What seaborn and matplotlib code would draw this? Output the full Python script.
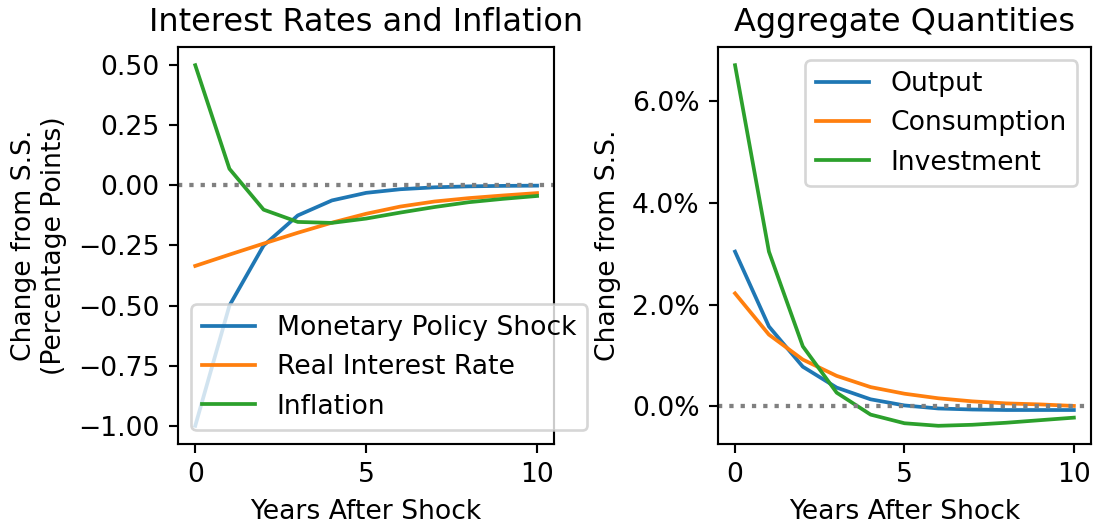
'''
plot.py

impulse responses to a monetary policy shock
'''
import matplotlib
matplotlib.use("Agg")
import matplotlib.pyplot as plt
from matplotlib.ticker import PercentFormatter
import seaborn as sns
import numpy as np
import pandas as pd

years = list(range(11))

# left panel, percentage points
policy_shock = [-1.0, -0.5, -0.25, -0.125, -0.0625, -0.031, -0.016, -0.008, -0.004, -0.002, -0.001]
real_rate = [-0.335, -0.288, -0.242, -0.197, -0.155, -0.118, -0.088, -0.067, -0.053, -0.042, -0.032]
inflation = [0.50, 0.069, -0.101, -0.152, -0.156, -0.138, -0.113, -0.090, -0.070, -0.056, -0.044]

# right panel, percent
output = [3.04, 1.57, 0.78, 0.37, 0.14, 0.02, -0.04, -0.06, -0.07, -0.07, -0.07]
consumption = [2.22, 1.41, 0.92, 0.60, 0.38, 0.25, 0.16, 0.10, 0.06, 0.04, 0.01]
investment = [6.70, 3.04, 1.18, 0.27, -0.16, -0.33, -0.38, -0.36, -0.32, -0.27, -0.22]

left_df = pd.DataFrame({
    'year': years,
    'Monetary Policy Shock': policy_shock,
    'Real Interest Rate': real_rate,
    'Inflation': inflation,
})
right_df = pd.DataFrame({
    'year': years,
    'Output': output,
    'Consumption': consumption,
    'Investment': investment,
})

DPI = 192
fig, (ax1, ax2) = plt.subplots(1, 2, figsize=(1093 / DPI, 524 / DPI), dpi=DPI)
# place axes like the reference (figure fractions)
ax1.set_position([0.163, 0.153, 0.344, 0.757])
ax2.set_position([0.657, 0.153, 0.341, 0.757])

for col in ['Monetary Policy Shock', 'Real Interest Rate', 'Inflation']:
    sns.lineplot(data=left_df, x='year', y=col, label=col, ax=ax1, linewidth=1.4)
ax1.axhline(0, color='gray', linestyle=':', linewidth=1.6)
ax1.set_title('Interest Rates and Inflation')
ax1.set_xlabel('Years After Shock')
ax1.set_ylabel('Change from S.S.\n(Percentage Points)')
ax1.set_yticks(np.arange(-1.0, 0.51, 0.25))
ax1.legend(loc='lower left')

for col in ['Output', 'Consumption', 'Investment']:
    sns.lineplot(data=right_df, x='year', y=col, label=col, ax=ax2, linewidth=1.4)
ax2.axhline(0, color='gray', linestyle=':', linewidth=1.6)
ax2.set_title('Aggregate Quantities')
ax2.set_xlabel('Years After Shock')
ax2.set_ylabel('Change from S.S.')
ax2.set_yticks([0, 2, 4, 6])
ax2.yaxis.set_major_formatter(PercentFormatter(decimals=1))
ax2.legend(loc='upper right')

for ax in (ax1, ax2):
    ax.set_xticks([0, 5, 10])

fig.savefig('out.png', dpi=DPI)
